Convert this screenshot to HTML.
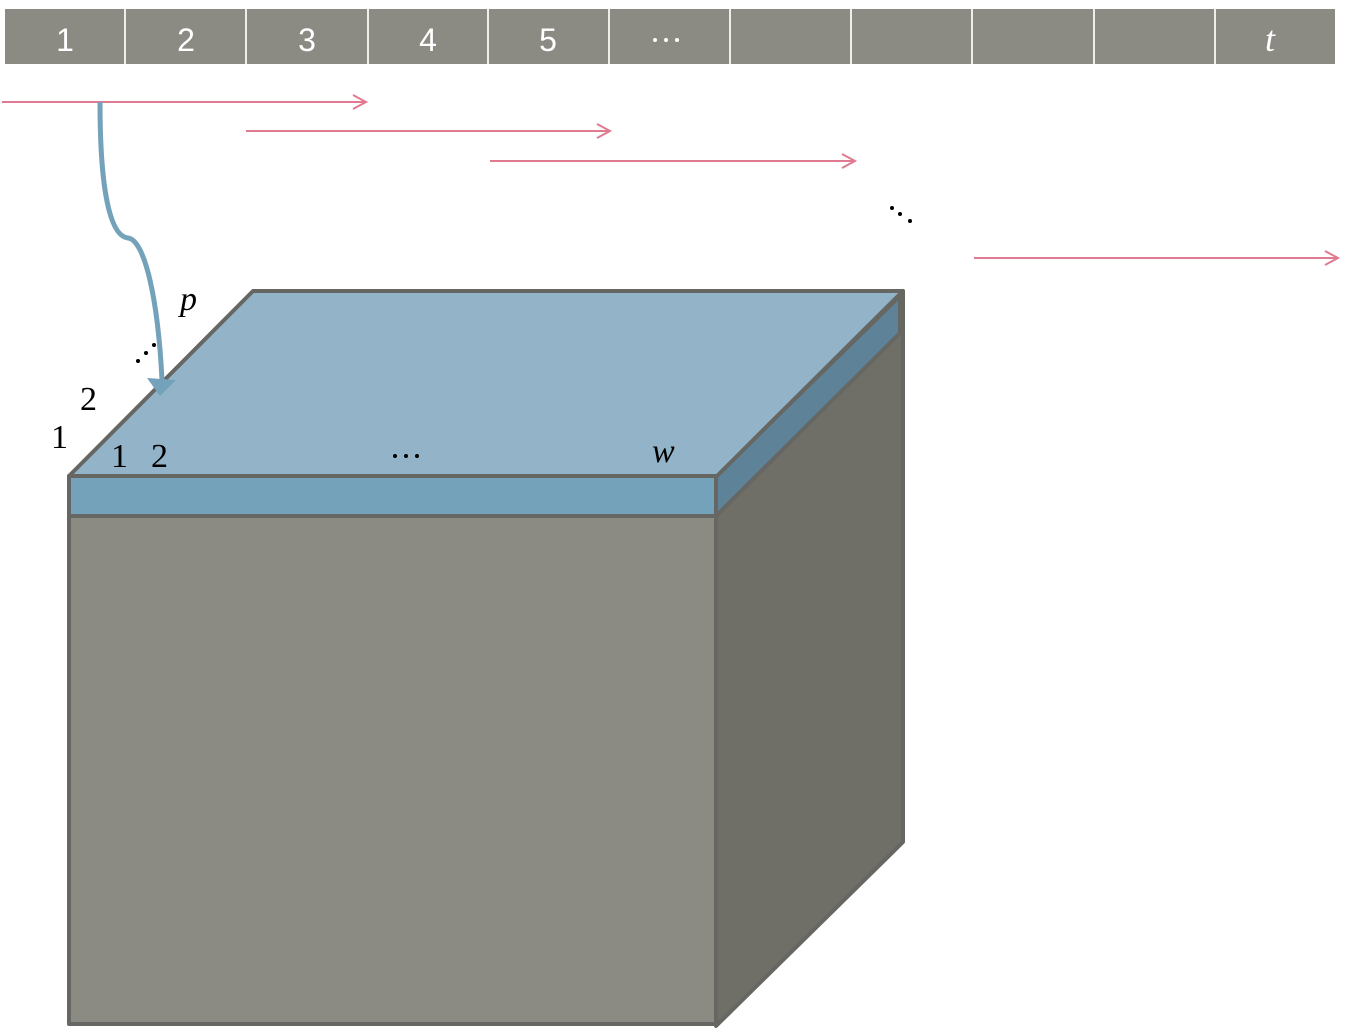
<!DOCTYPE html>
<html><head><meta charset="utf-8"><style>
html,body{margin:0;padding:0;background:#fff;}
svg{display:block;}
text{font-family:"Liberation Serif",serif;}
text.s{font-family:"Liberation Sans",sans-serif;}
</style></head><body>
<svg width="1352" height="1029" viewBox="0 0 1352 1029" xmlns="http://www.w3.org/2000/svg">
<rect x="5" y="9" width="1330" height="55" fill="#8b8b84"/>
<g stroke="#eeeeea" stroke-width="2">
<line x1="125" y1="9" x2="125" y2="64"/><line x1="246" y1="9" x2="246" y2="64"/>
<line x1="368" y1="9" x2="368" y2="64"/><line x1="488" y1="9" x2="488" y2="64"/>
<line x1="609" y1="9" x2="609" y2="64"/><line x1="730" y1="9" x2="730" y2="64"/>
<line x1="851" y1="9" x2="851" y2="64"/><line x1="972" y1="9" x2="972" y2="64"/>
<line x1="1094" y1="9" x2="1094" y2="64"/><line x1="1215" y1="9" x2="1215" y2="64"/>
</g>
<g fill="#fff" font-size="32" text-anchor="middle">
<text class="s" x="65" y="51">1</text><text class="s" x="186" y="51">2</text><text class="s" x="307" y="51">3</text>
<text class="s" x="428" y="51">4</text><text class="s" x="548" y="51">5</text>
</g>
<g fill="#fff"><circle cx="655" cy="40" r="2"/><circle cx="666" cy="40" r="2"/><circle cx="677" cy="40" r="2"/></g>
<text x="1270" y="51" fill="#fff" font-size="36" font-style="italic" text-anchor="middle">t</text>

<g stroke="#e07a90" stroke-width="2" fill="none">
<line x1="2" y1="102" x2="366" y2="102"/><polyline points="353,95 366,102 353,109"/>
<line x1="246" y1="131" x2="610" y2="131"/><polyline points="597,124 610,131 597,138"/>
<line x1="490" y1="161" x2="855" y2="161"/><polyline points="842,154 855,161 842,168"/>
<line x1="974" y1="258" x2="1338" y2="258"/><polyline points="1325,251 1338,258 1325,265"/>
</g>
<g fill="#000"><circle cx="892" cy="208" r="2"/><circle cx="900" cy="214" r="2"/><circle cx="910" cy="221" r="2"/></g>

<g stroke="#666662" stroke-width="4" stroke-linejoin="round">
<polygon points="716,476 903,291 903,842 716,1026" fill="#6f6f68"/>
<rect x="69" y="516" width="647" height="508" fill="#8b8b84"/>
<polygon points="716,476 900,296 900,333 716,516" fill="#5e8399"/>
<rect x="69" y="476" width="647" height="40" fill="#74a2bb"/>
<polygon points="69,476 253,291 903,291 717,476" fill="#93b4c8"/>
</g>

<path d="M100,102 C100,180 108,236 128,238 C145,240 158,300 162,380" stroke="#74a2bb" stroke-width="5" fill="none"/>
<polygon points="147,378 176,380 160,396" fill="#74a2bb"/>

<g font-size="34" fill="#000">
<text x="180" y="310" font-style="italic">p</text>
<text x="80" y="410">2</text>
<text x="51" y="448">1</text>
<text x="111" y="467">1</text>
<text x="151" y="467">2</text>
<text x="652" y="462" font-style="italic">w</text>
</g>
<g fill="#000">
<circle cx="138" cy="361" r="2"/><circle cx="146" cy="353" r="2"/><circle cx="154" cy="345" r="2"/>
<circle cx="395" cy="456" r="2"/><circle cx="406" cy="456" r="2"/><circle cx="417" cy="456" r="2"/>
</g>
</svg>
</body></html>
